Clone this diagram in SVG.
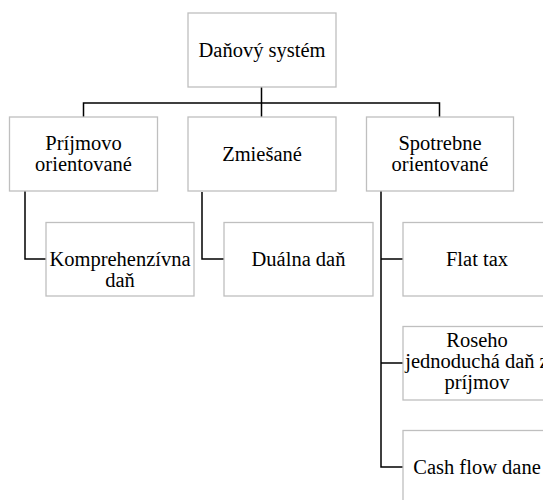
<svg xmlns="http://www.w3.org/2000/svg" width="543" height="500" viewBox="0 0 543 500">
<style>
.box{fill:#ffffff;stroke:#bfbfbf;stroke-width:1.3}
.lbl{font-size:20.5px;fill:#000;text-anchor:middle}
.con{fill:none;stroke:#000;stroke-width:1.5}
</style>
<rect width="543" height="500" fill="#fff"/>
<g id="connectors">
<path class="con" d="M261.5 87V103M83.5 117V103H439.5V117M261.5 103V117"/>
<path class="con" d="M25 191V259H46"/>
<path class="con" d="M202 192V259H224"/>
<path class="con" d="M381 191V467H403M381 259H403M381 363H403"/>
</g>
<g font-family="'Liberation Serif', 'DejaVu Serif', serif">
<g id="root"><rect class="box" x="188" y="13" width="148" height="74"/><text class="lbl" x="262" y="57">Daňový systém</text></g>
<g id="prijmovo"><rect class="box" x="9.5" y="117" width="148" height="74"/><text class="lbl" x="83.5" y="150">Príjmovo</text><text class="lbl" x="83.5" y="171">orientované</text></g>
<g id="zmiesane"><rect class="box" x="188" y="117" width="148" height="74"/><text class="lbl" x="262" y="161">Zmiešané</text></g>
<g id="spotrebne"><rect class="box" x="366.5" y="117" width="147" height="74"/><text class="lbl" x="440" y="150">Spotrebne</text><text class="lbl" x="440" y="171">orientované</text></g>
<g id="komprehenzivna"><rect class="box" x="46" y="222.5" width="148" height="73.5"/><text class="lbl" x="120" y="266">Komprehenzívna</text><text class="lbl" x="120" y="287">daň</text></g>
<g id="dualna"><rect class="box" x="224" y="222.5" width="149" height="73.5"/><text class="lbl" x="298.5" y="266">Duálna daň</text></g>
<g id="flattax"><rect class="box" x="403" y="222.5" width="148" height="73.5"/><text class="lbl" x="477" y="266">Flat tax</text></g>
<g id="roseho"><rect class="box" x="403" y="326.5" width="148" height="73.5"/><text class="lbl" x="477" y="347">Roseho</text><text class="lbl" x="477" y="368">jednoduchá daň z</text><text class="lbl" x="477" y="389">príjmov</text></g>
<g id="cashflow"><rect class="box" x="403" y="430.5" width="148" height="73.5"/><text class="lbl" x="477" y="474">Cash flow dane</text></g>
</g>
</svg>
